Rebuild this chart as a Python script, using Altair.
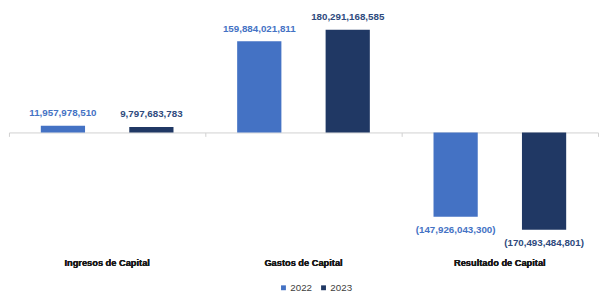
import altair as alt
import pandas as pd

categories = ["Ingresos de Capital", "Gastos de Capital", "Resultado de Capital"]
years = ["2022", "2023"]
values_2022 = [11957978510, 159884021811, -147926043300]
values_2023 = [9797683783, 180291168585, -170493484801]

rows = []
for i, c in enumerate(categories):
    rows.append({"Categoria": c, "Año": "2022", "Valor": values_2022[i]})
    rows.append({"Categoria": c, "Año": "2023", "Valor": values_2023[i]})
df = pd.DataFrame(rows)

FONT = "Liberation Sans Narrow, Arial Narrow, Liberation Sans, Arial, sans-serif"
bar_colors = ["#4472C4", "#203864"]
label_colors = ["#4472C4", "#2E4A7D"]

x_scale = alt.Scale(domain=categories, paddingInner=0, paddingOuter=0)
xo_scale = alt.Scale(domain=years, paddingInner=0.5, paddingOuter=0.36)
y_scale = alt.Scale(domain=[-209e9, 209e9], nice=False, zero=False)

base = alt.Chart(df).encode(
    x=alt.X("Categoria:N", scale=x_scale, sort=categories,
            axis=alt.Axis(title=None, labelAngle=0, domain=False, ticks=False, orient="bottom",
                          labelFont=FONT, labelFontSize=9.5, labelFontWeight="bold",
                          labelColor="#1A1A1A", labelPadding=6)),
    xOffset=alt.XOffset("Año:N", scale=xo_scale, sort=years),
    y=alt.Y("Valor:Q", scale=y_scale, axis=None),
)

bars = base.mark_bar().encode(
    color=alt.Color("Año:N", sort=years,
                    scale=alt.Scale(domain=years, range=bar_colors),
                    legend=alt.Legend(title=None, orient="none", legendX=276, legendY=276,
                                      direction="horizontal", symbolType="square",
                                      symbolSize=25, labelFont=FONT, labelFontSize=10,
                                      labelColor="#404040", columnPadding=6,
                                      labelOffset=2, symbolStrokeWidth=0))
)

fmt = "(datum.Valor < 0 ? '(' + format(-datum.Valor, ',') + ')' : format(datum.Valor, ','))"

labels_pos = base.transform_filter("datum.Valor >= 0").transform_calculate(
    lbl=fmt
).mark_text(baseline="middle", dy=-13, font=FONT, fontSize=10, fontWeight="bold").encode(
    text="lbl:N",
    color=alt.Color("Año:N", scale=alt.Scale(domain=years, range=label_colors), legend=None),
)

labels_neg = base.transform_filter("datum.Valor < 0").transform_calculate(
    lbl=fmt
).mark_text(baseline="middle", dy=14, font=FONT, fontSize=10, fontWeight="bold").encode(
    text="lbl:N",
    color=alt.Color("Año:N", scale=alt.Scale(domain=years, range=label_colors), legend=None),
)

zero_axis = alt.Chart(df).mark_text(opacity=0).encode(
    x=alt.X("Categoria:N", scale=x_scale, sort=categories,
            axis=alt.Axis(title=None, labels=False, domain=True, domainColor="#D0D0D0",
                          ticks=True, tickColor="#D0D0D0", tickSize=4, tickBand="extent",
                          offset=-122, orient="bottom")),
    y=alt.Y("Valor:Q", scale=y_scale, axis=None),
    text=alt.value(""),
)

chart = alt.layer(zero_axis, bars, labels_pos, labels_neg).resolve_axis(
    x="independent"
).resolve_scale(color="independent").properties(
    width=603, height=244, padding={"left": 0, "right": 0, "top": 0, "bottom": 0}
).configure_view(stroke=None).configure_axis(grid=False)

chart.save("out.html", embed_options={"renderer": "svg", "actions": False})
